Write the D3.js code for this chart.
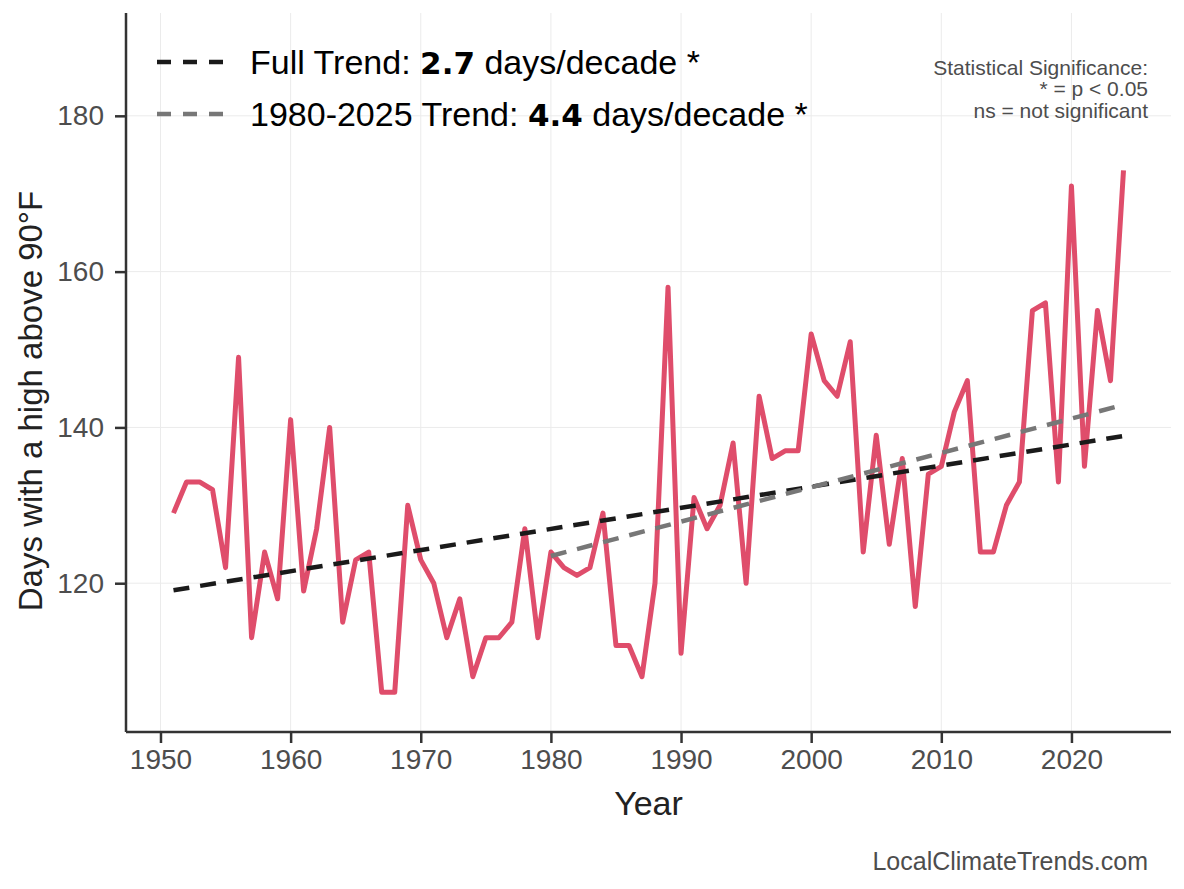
<!DOCTYPE html>
<html>
<head>
<meta charset="utf-8">
<script src="https://cdn.jsdelivr.net/npm/d3@7"></script>
<style>
    body { margin: 0; background: #fff; }
    text { font-family: "Liberation Sans", Arial, sans-serif; }
</style>
</head>
<body>
<div id="chart-container"></div>
<script>
// days per year with a high above 90F, 1951-2024
const years = d3.range(1951, 2025)
const hotDays = [
    129, 133, 133, 132, 122, 149, 113, 124, 118, 141,
    119, 127, 140, 115, 123, 124, 106, 106, 130, 123,
    120, 113, 118, 108, 113, 113, 115, 127, 113, 124,
    122, 121, 122, 129, 112, 112, 108, 120, 158, 111,
    131, 127, 130, 138, 120, 144, 136, 137, 137, 152,
    146, 144, 151, 124, 139, 125, 136, 117, 134, 135,
    142, 146, 124, 124, 130, 133, 155, 156, 133, 171,
    135, 155, 146, 173
]
// trend line end points
const fullTrendYears = [1951, 2024]
const fullTrendValues = [119.1, 138.9]
const recentTrendYears = [1980, 2024]
const recentTrendValues = [123.5, 142.9]

const xTicks = [1950, 1960, 1970, 1980, 1990, 2000, 2010, 2020]
const yTicks = [120, 140, 160, 180]
const legendLabels = [
    { pre: 'Full Trend: ', value: '2.7', post: ' days/decade *' },
    { pre: '1980-2025 Trend: ', value: '4.4', post: ' days/decade *' }
]
const noteLines = ['Statistical Significance:', '* = p < 0.05', 'ns = not significant']

const width = 1184
const height = 889
const margin = { top: 13, left: 126, bottom: 157, right: 13 }
const innerW = width - margin.left - margin.right
const innerH = height - margin.top - margin.bottom

const svg = d3.select('#chart-container')
    .append('svg')
    .attr('width', width)
    .attr('height', height)

const g = svg.append('g')
    .attr('transform', `translate(${margin.left}, ${margin.top})`)

const xScale = d3.scaleLinear()
    .domain([1947.35, 2027.65])
    .range([0, innerW])
const yScale = d3.scaleLinear()
    .domain([100.9, 193.2])
    .range([innerH, 0])

// grid
g.append('g')
    .selectAll('line')
    .data(xTicks)
    .join('line')
    .attr('x1', d => xScale(d)).attr('x2', d => xScale(d))
    .attr('y1', 0).attr('y2', innerH)
    .attr('stroke', '#ebebeb').attr('stroke-width', 1)
g.append('g')
    .selectAll('line')
    .data(yTicks)
    .join('line')
    .attr('x1', 0).attr('x2', innerW)
    .attr('y1', d => yScale(d)).attr('y2', d => yScale(d))
    .attr('stroke', '#ebebeb').attr('stroke-width', 1)

const line = d3.line()
    .x(d => xScale(d[0]))
    .y(d => yScale(d[1]))

g.append('path')
    .datum(years.map((y, i) => [y, hotDays[i]]))
    .attr('d', line)
    .attr('fill', 'none')
    .attr('stroke', '#df4d6b')
    .attr('stroke-width', 5)
    .attr('stroke-linejoin', 'round')

const trendColors = ['#1a1a1a', '#777777']
const trends = [
    d3.zip(fullTrendYears, fullTrendValues),
    d3.zip(recentTrendYears, recentTrendValues)
]
trends.forEach((pts, i) => {
    g.append('path')
        .datum(pts)
        .attr('d', line)
        .attr('fill', 'none')
        .attr('stroke', trendColors[i])
        .attr('stroke-width', 4.5)
        .attr('stroke-dasharray', '16,11')
})

// axes
const xAxis = g.append('g')
    .attr('transform', `translate(0, ${innerH})`)
    .call(d3.axisBottom(xScale).tickValues(xTicks).tickFormat(d3.format('d')).tickSize(11).tickSizeOuter(0))
const yAxis = g.append('g')
    .call(d3.axisLeft(yScale).tickValues(yTicks).tickSize(11).tickSizeOuter(0))

;[xAxis, yAxis].forEach(a => {
    a.select('.domain').remove()
    a.selectAll('.tick line').attr('stroke', '#333').attr('stroke-width', 2.5)
    a.selectAll('.tick text')
        .attr('fill', '#4d4d4d')
        .style('font-size', '28px')
        .style('font-family', '"Liberation Sans", Arial, sans-serif')
})
xAxis.selectAll('.tick text').attr('y', 17)
yAxis.selectAll('.tick text').attr('x', -22)

g.append('line')
    .attr('x1', 0).attr('x2', 0).attr('y1', 0).attr('y2', innerH)
    .attr('stroke', '#333').attr('stroke-width', 2.5)
g.append('line')
    .attr('x1', 0).attr('x2', innerW).attr('y1', innerH).attr('y2', innerH)
    .attr('stroke', '#333').attr('stroke-width', 2.5)

// axis titles
svg.append('text')
    .attr('x', margin.left + innerW / 2)
    .attr('y', 815)
    .attr('text-anchor', 'middle')
    .attr('fill', '#222')
    .style('font-size', '34px')
    .text('Year')
svg.append('text')
    .attr('transform', 'translate(42, 401) rotate(-90)')
    .attr('text-anchor', 'middle')
    .attr('fill', '#222')
    .style('font-size', '33px')
    .text('Days with a high above 90°F')

// legend
const legend = svg.append('g')
legendLabels.forEach((d, i) => {
    const y = 62 + i * 52
    legend.append('line')
        .attr('x1', 157).attr('x2', 223)
        .attr('y1', y).attr('y2', y)
        .attr('stroke', trendColors[i])
        .attr('stroke-width', 4.5)
        .attr('stroke-dasharray', '14,12')
    const t = legend.append('text')
        .attr('x', 250)
        .attr('y', y)
        .attr('dy', '0.36em')
        .attr('fill', '#000')
        .style('font-size', '34px')
    t.append('tspan').text(d.pre)
    t.append('tspan')
        .style('font-family', '"DejaVu Sans", sans-serif')
        .style('font-weight', 'bold')
        .style('font-size', '31px')
        .text(d.value)
    t.append('tspan').text(d.post)
})

// significance note
svg.append('g')
    .selectAll('text')
    .data(noteLines)
    .join('text')
    .attr('x', 1148)
    .attr('y', (d, i) => 67 + i * 21.5)
    .attr('dy', '0.36em')
    .attr('text-anchor', 'end')
    .attr('fill', '#4d4d4d')
    .style('font-size', '21px')
    .text(d => d)

svg.append('text')
    .attr('x', 1148)
    .attr('y', 861)
    .attr('dy', '0.36em')
    .attr('text-anchor', 'end')
    .attr('fill', '#4d4d4d')
    .style('font-size', '25px')
    .text('LocalClimateTrends.com')
</script>
</body>
</html>
